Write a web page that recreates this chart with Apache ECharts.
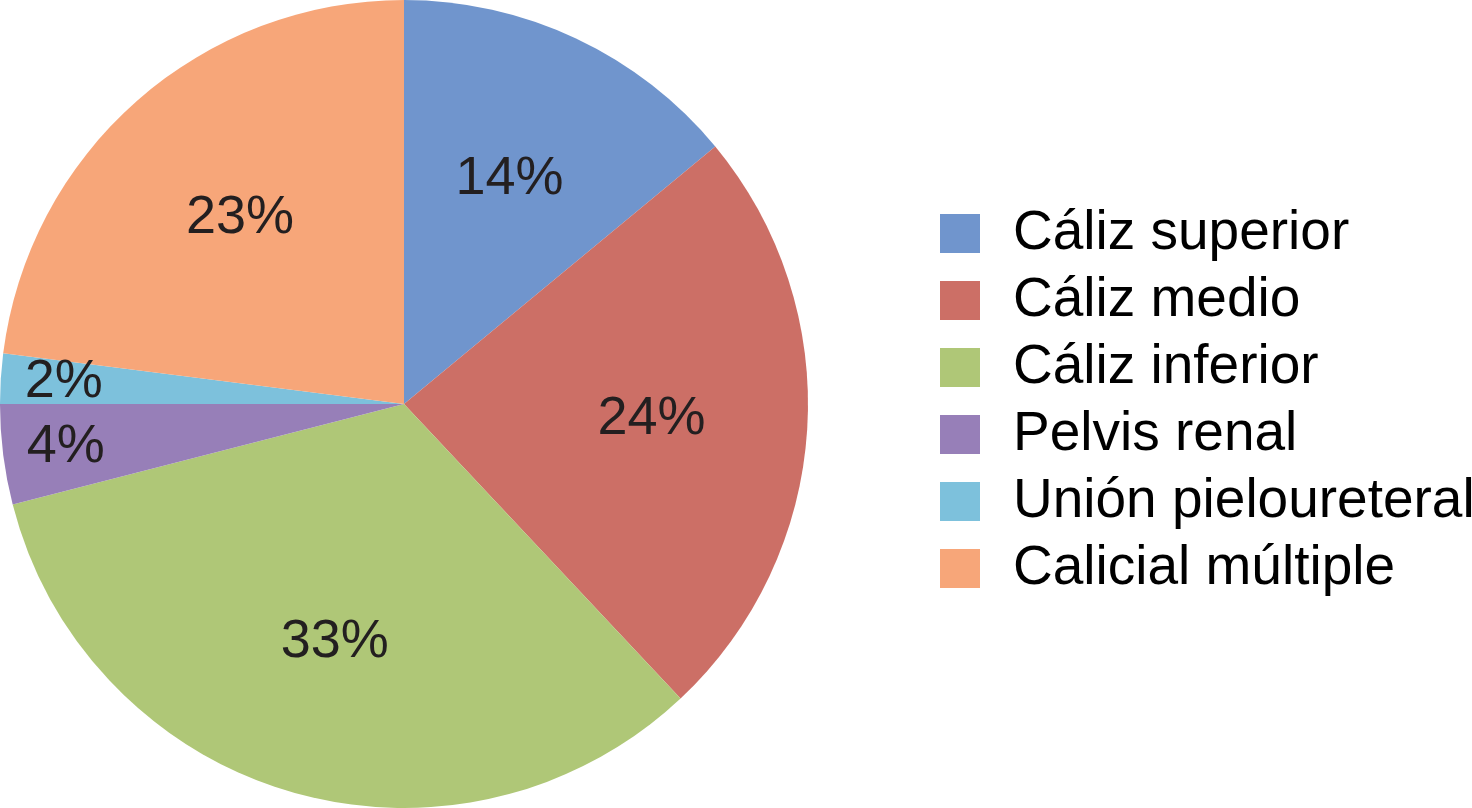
<!DOCTYPE html>
<html>
<head>
<meta charset="utf-8">
<script src="https://cdn.jsdelivr.net/npm/echarts@6/dist/echarts.min.js"></script>
<style>
  html, body { margin: 0; padding: 0; background: #fff; }
  #chart { width: 1472px; height: 808px; }
</style>
</head>
<body>
<div id="chart"></div>
<script>
const categories = ['Cáliz superior', 'Cáliz medio', 'Cáliz inferior', 'Pelvis renal', 'Unión pieloureteral', 'Calicial múltiple'];
const percents = [14, 24, 33, 4, 2, 23];
const colors = ['#7095cd', '#cc6f66', '#afc777', '#977fb8', '#7dc1dc', '#f7a679'];

const chart = echarts.init(document.getElementById('chart'));

const cx = 404, cy = 404, R = 404;
const labelFont = { fontFamily: '"Liberation Sans", Arial, sans-serif', fontSize: 54, color: '#231f20' };

const baseData = categories.map((name, i) => ({ name: name, value: percents[i] }));

// invisible ring whose inside label lands at the right radius
function labelRing(radius, keep) {
  return {
    type: 'pie',
    center: [cx, cy],
    radius: radius,
    startAngle: 90,
    silent: true,
    animation: false,
    z: 3,
    itemStyle: { color: 'transparent', borderWidth: 0 },
    labelLine: { show: false },
    label: Object.assign({ position: 'inside', formatter: '{c}%' }, labelFont),
    data: baseData.map(d => ({
      name: d.name,
      value: d.value,
      label: { show: keep(d.value) }
    }))
  };
}

chart.setOption({
  animation: false,
  color: colors,
  legend: {
    orient: 'vertical',
    left: 940,
    top: 206,
    padding: 0,
    itemWidth: 40,
    itemHeight: 39,
    itemGap: 12,
    icon: 'rect',
    selectedMode: false,
    data: categories,
    textStyle: {
      fontFamily: '"Liberation Sans", Arial, sans-serif',
      fontSize: 55,
      color: '#000',
      padding: [0, 0, 0, 28]
    }
  },
  series: [
    {
      type: 'pie',
      center: [cx, cy],
      radius: [0, R],
      startAngle: 90,
      label: { show: false },
      labelLine: { show: false },
      itemStyle: { borderWidth: 0 },
      emphasis: { disabled: true },
      data: baseData
    },
    labelRing([0, 490], v => v >= 10),
    labelRing([276, 400], v => v < 10)
  ]
});
</script>
</body>
</html>
